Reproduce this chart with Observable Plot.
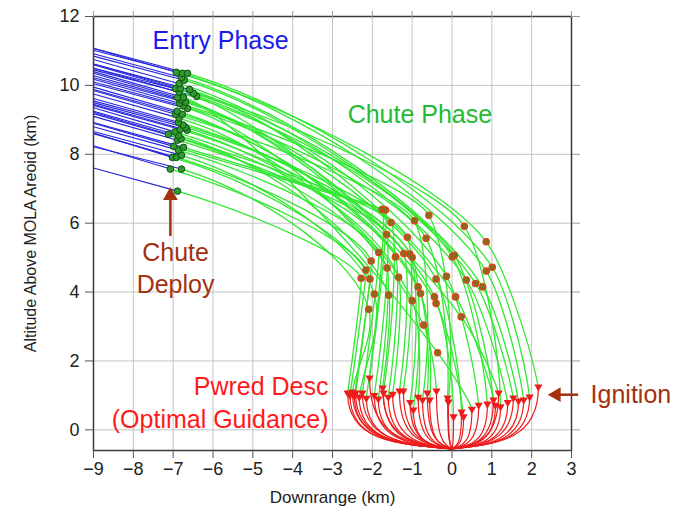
<!DOCTYPE html>
<html>
<head>
<meta charset="utf-8">
<script src="https://cdn.jsdelivr.net/npm/d3@7"></script>
<script src="https://cdn.jsdelivr.net/npm/@observablehq/plot@0.6"></script>
<style>
  html, body { margin: 0; padding: 0; background: #fff; }
  #chart svg { display: block; }
</style>
</head>
<body>
<div id="chart"></div>
<script>
// ---------- data (km) ----------
const entryStartX = -9;
const startY  = [7.60,8.25,8.22,8.62,8.60,8.66,8.80,8.92,8.90,9.10,9.18,9.25,9.22,9.35,9.45,9.42,9.50,9.55,9.62,9.75,9.85,9.88,9.95,10.05,10.10,10.18,10.22,10.28,10.35,10.40,10.45,10.50,10.50,10.62,10.60,10.62,10.75,10.85,10.92,11.02,11.08,11.07];
const deployX = [-6.89,-7.07,-6.79,-7.02,-6.92,-6.79,-6.87,-6.74,-6.99,-6.89,-6.80,-6.87,-7.12,-6.95,-6.65,-6.82,-6.69,-6.75,-6.87,-6.85,-6.94,-6.77,-6.90,-6.64,-6.75,-6.84,-6.69,-6.80,-6.89,-6.74,-6.41,-6.49,-6.85,-6.59,-6.94,-6.82,-6.85,-6.72,-6.79,-6.77,-6.64,-6.92];
const deployY = [6.93,7.57,7.57,7.91,7.91,7.97,8.12,8.20,8.23,8.41,8.45,8.55,8.58,8.65,8.70,8.72,8.78,8.85,8.93,9.05,9.16,9.16,9.25,9.33,9.40,9.48,9.51,9.58,9.65,9.65,9.68,9.77,9.80,9.88,9.91,9.91,10.05,10.15,10.23,10.35,10.35,10.38];
const sepX = [-2.28,-2.16,-2.09,-2.06,-2.03,-1.95,-1.84,-1.75,-1.67,-1.64,-1.63,-1.59,-1.53,-1.42,-1.34,-1.21,-1.12,-1.06,-1.00,-1.00,-0.94,-0.85,-0.79,-0.71,-0.65,-0.58,-0.44,-0.40,-0.40,-0.36,-0.14,0.01,0.06,0.09,0.23,0.31,0.36,0.59,0.77,0.86,1.01,0.86];
const sepY = [4.40,4.64,3.50,4.38,4.90,3.94,5.15,6.40,6.38,5.67,4.70,3.91,6.02,5.02,4.43,5.12,5.59,5.10,5.01,3.75,6.07,4.15,3.96,3.04,5.56,6.23,3.86,4.38,3.67,2.24,4.46,5.02,5.07,3.86,3.28,5.91,4.35,4.25,4.15,4.61,4.72,5.46];
const ignX = [-2.62,-2.56,-2.50,-2.45,-2.42,-2.33,-2.25,-2.15,-2.07,-1.95,-1.85,-1.74,-1.72,-1.60,-1.49,-1.32,-1.22,-1.05,-0.97,-0.85,-0.74,-0.62,-0.56,-0.39,-0.11,-0.09,0.04,0.24,0.29,0.50,0.67,0.89,1.04,1.09,1.17,1.22,1.40,1.54,1.67,1.80,1.95,2.17];
const ignY = [1.07,1.00,1.10,0.98,1.07,0.95,1.07,0.92,1.51,1.00,0.90,1.22,1.07,0.95,1.04,1.13,1.13,0.80,0.58,0.95,0.87,1.07,0.87,1.13,0.93,0.81,0.38,0.52,0.38,0.60,0.72,0.75,0.87,0.72,1.07,0.67,0.80,0.93,0.84,0.87,0.96,1.25];
const landX = 0, landY = -0.55;

const xTicks = [-9,-8,-7,-6,-5,-4,-3,-2,-1,0,1,2,3];
const yTicks = [0,2,4,6,8,10,12];

const startLabels = [
  {text: "Entry Phase", x: -7.52, y: 11.28, color: "#1a1aee"},
  {text: "Chute Phase", x: -2.62, y: 9.13, color: "#22bb33"},
  {text: "Ignition", x: 3.48, y: 1.02, color: "#a3320f"}
];
const middleLabels = [{text: "Chute\nDeploy", x: -6.94, y: 4.74, color: "#a3320f"}];
const endLabels = [{text: "Pwred Desc\n(Optimal Guidance)", x: -3.10, y: 0.83, color: "#ff1a1a"}];
const deployArrow = {x: -7.07, y1: 5.61, y2: 6.80};
const ignArrow = {y: 1.02, x1: 3.18, x2: 2.62};

// ---------- build tables ----------
const idx = d3.range(startY.length);
const entry = idx.flatMap(i => [{id: i, x: entryStartX, y: startY[i]}, {id: i, x: deployX[i], y: deployY[i]}]);
const chute = idx.flatMap(i => [{id: i, x: deployX[i], y: deployY[i]}, {id: i, x: sepX[i], y: sepY[i]}, {id: i, x: ignX[i], y: ignY[i]}]);
const powered = idx.flatMap(i => [{id: i, x: ignX[i], y: ignY[i]}, {id: i, x: landX, y: landY}]);
const deployPts = idx.map(i => ({x: deployX[i], y: deployY[i]}));
const sepPts = idx.map(i => ({x: sepX[i], y: sepY[i]}));
const ignPts = idx.map(i => ({x: ignX[i], y: ignY[i]}));

// ---------- custom curve shapes ----------
const norm = v => { const l = Math.hypot(v[0], v[1]) || 1; return [v[0] / l, v[1] / l]; };
const ang = v => Math.atan2(v[1], v[0]);
const fromAng = a => [Math.cos(a), Math.sin(a)];
function arcSeg(ctx, p, q, d0, d1) {
  const rx = q[0] - p[0], ry = q[1] - p[1], L = Math.hypot(rx, ry);
  const det = d0[0] * d1[1] - d0[1] * d1[0];
  let s = NaN, t = NaN;
  if (Math.abs(det) > 0.25) {
    s = (rx * d1[1] - ry * d1[0]) / det;
    t = (d0[0] * ry - d0[1] * rx) / det;
  }
  let a, b;
  if (s > 0 && t > 0 && s < 1.6 * L && t < 1.6 * L) { a = 0.52 * s; b = 0.52 * t; }
  else { a = b = L / 3; }
  ctx.bezierCurveTo(p[0] + d0[0] * a, p[1] + d0[1] * a, q[0] - d1[0] * b, q[1] - d1[1] * b, q[0], q[1]);
}
function chuteCurve(context) {
  let pts;
  return {
    areaStart() {}, areaEnd() {},
    lineStart() { pts = []; },
    point(x, y) { pts.push([+x, +y]); },
    lineEnd() {
      const n = pts.length;
      if (n < 2) return;
      const chords = d3.range(n - 1).map(i => norm([pts[i+1][0] - pts[i][0], pts[i+1][1] - pts[i][1]]));
      const mid = i => {
        const a = chords[i-1], b = chords[i];
        return norm([a[0] * 0.4 + b[0] * 0.6, a[1] * 0.4 + b[1] * 0.6]);
      };
      const dirs = pts.map((p, i) => {
        if (i === 0) return norm([1, 0.3]);
        if (i === n - 1) {
          const c = ang(chords[n-2]);
          const prev = n > 2 ? ang(mid(i - 1)) : ang(norm([1, 0.3]));
          let e = c + 0.5 * (c - prev);
          e = Math.max(72 * Math.PI / 180, Math.min(98 * Math.PI / 180, e));
          return fromAng(e);
        }
        return mid(i);
      });
      context.moveTo(pts[0][0], pts[0][1]);
      for (let i = 0; i < n - 1; i++) arcSeg(context, pts[i], pts[i+1], dirs[i], dirs[i+1]);
    }
  };
}
function poweredCurve(context) {
  let pts;
  return {
    areaStart() {}, areaEnd() {},
    lineStart() { pts = []; },
    point(x, y) { pts.push([+x, +y]); },
    lineEnd() {
      if (pts.length < 2) return;
      const [p, q] = pts;
      context.moveTo(p[0], p[1]);
      context.bezierCurveTo(p[0], p[1] + 0.85 * (q[1] - p[1]),
                            q[0] + 0.55 * (p[0] - q[0]), q[1] - 0.08 * (q[1] - p[1]),
                            q[0], q[1]);
    }
  };
}

const font = "'Liberation Sans', Arial, Helvetica, sans-serif";
const minus = d => d < 0 ? "\u2212" + Math.abs(d) : String(d);

const chart = Plot.plot({
  width: 686,
  height: 511,
  marginLeft: 93,
  marginRight: 115,
  marginTop: 16,
  marginBottom: 61,
  style: {fontFamily: font, background: "#fff", overflow: "visible"},
  x: {domain: [-9, 3], ticks: xTicks, label: null},
  y: {domain: [-0.6, 12], ticks: yTicks, label: null},
  marks: [
    Plot.gridX(xTicks, {stroke: "#c4c4c4", strokeOpacity: 1, strokeWidth: 1}),
    Plot.gridY(yTicks, {stroke: "#c4c4c4", strokeOpacity: 1, strokeWidth: 1}),
    Plot.line(entry, {x: "x", y: "y", z: "id", stroke: "#2424dd", strokeWidth: 1.1}),
    Plot.line(chute, {x: "x", y: "y", z: "id", stroke: "#33e833", strokeWidth: 1.3, curve: chuteCurve}),
    Plot.line(powered, {x: "x", y: "y", z: "id", stroke: "#ee1c1c", strokeWidth: 1.2, curve: poweredCurve}),
    Plot.dot(deployPts, {x: "x", y: "y", r: 3.3, fill: "#2f9a2f", stroke: "#0d5010", strokeWidth: 1}),
    Plot.dot(sepPts, {x: "x", y: "y", r: 3.2, fill: "#8a6a1e", stroke: "#e0441a", strokeWidth: 1.2}),
    Plot.dot(ignPts, {x: "x", y: "y", symbol: "triangle", rotate: 180, r: 2.1, fill: "#ee1c1c", stroke: "#ee1c1c"}),
    Plot.frame({stroke: "#3a3a3a", strokeWidth: 1.5}),
    Plot.axisX(xTicks, {anchor: "bottom", tickSize: 8, tickPadding: 4, tickFormat: minus, fontSize: 18, color: "#222", stroke: "#555", label: null}),
    Plot.axisX(xTicks, {anchor: "top", tickSize: 6, tickFormat: () => "", stroke: "#999", label: null}),
    Plot.axisY(yTicks, {anchor: "left", tickSize: 8, tickPadding: 6, fontSize: 18, color: "#222", stroke: "#555", label: null}),
    Plot.axisY(yTicks, {anchor: "right", tickSize: 8, tickFormat: () => "", stroke: "#999", label: null}),
    Plot.text(["Downrange (km)"], {frameAnchor: "bottom", dy: 52, fontSize: 17, fill: "#222"}),
    Plot.text(["Altitude Above MOLA Areoid (km)"], {frameAnchor: "left", dx: -63, rotate: -90, textAnchor: "middle", fontSize: 16, fill: "#222"}),
    Plot.ruleX([deployArrow], {x: "x", y1: "y1", y2: "y2", stroke: "#a3320f", strokeWidth: 2.5}),
    Plot.dot([deployArrow], {x: "x", y: "y2", symbol: "triangle", r: 5.5, fill: "#a3320f", stroke: "none"}),
    Plot.ruleY([ignArrow], {y: "y", x1: "x1", x2: "x2", stroke: "#a3320f", strokeWidth: 2.5}),
    Plot.dot([ignArrow], {x: "x2", y: "y", symbol: "triangle", rotate: -90, r: 5.5, fill: "#a3320f", stroke: "none"}),
    Plot.text(startLabels, {x: "x", y: "y", text: "text", fill: "color", textAnchor: "start", fontSize: 25}),
    Plot.text(middleLabels, {x: "x", y: "y", text: "text", fill: "color", textAnchor: "middle", fontSize: 25, lineHeight: 1.3}),
    Plot.text(endLabels, {x: "x", y: "y", text: "text", fill: "color", textAnchor: "end", fontSize: 25, lineHeight: 1.3})
  ]
});
document.getElementById("chart").appendChild(chart);
</script>
</body>
</html>
